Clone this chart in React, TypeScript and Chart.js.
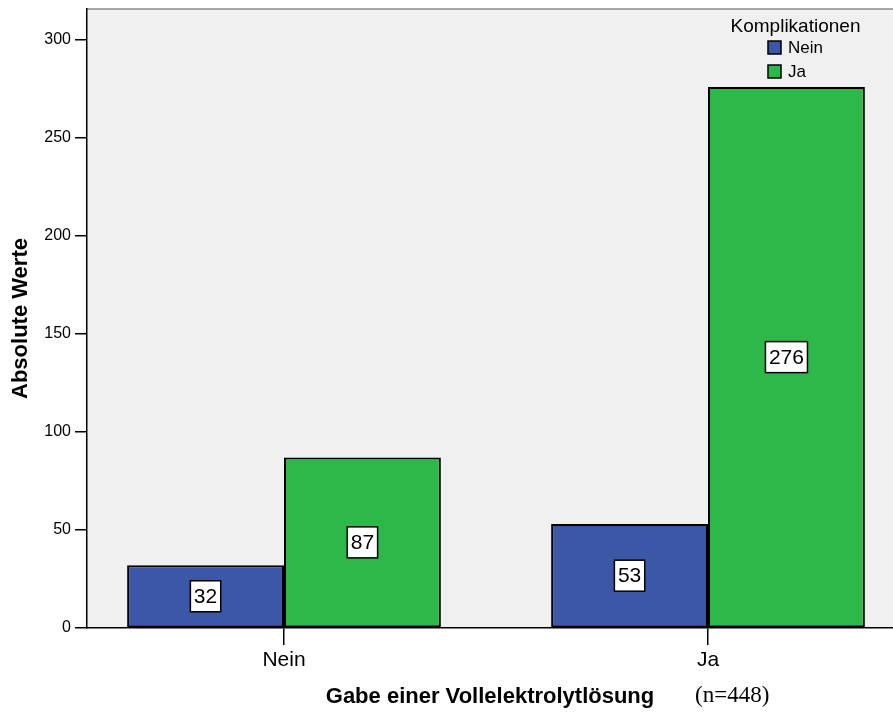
import React, { useEffect, useRef } from 'react';
import { Chart, registerables } from 'chart.js';

Chart.register(...registerables);

// ---- data ----
const categories = ['Nein', 'Ja'];
const seriesLabels = ['Nein', 'Ja'];
const valuesNein = [32, 53];
const valuesJa = [87, 276];
const yTickValues = [0, 50, 100, 150, 200, 250, 300];
const seriesColors = ['#3d57a8', '#2fb84a'];
const legendTitle = 'Komplikationen';
const xTitle = 'Gabe einer Vollelektrolytlösung';
const yTitle = 'Absolute Werte';
const noteText = '(n=448)';

const SANS = '"Liberation Sans", Arial, Helvetica, sans-serif';
const SERIF = '"Liberation Serif", "Times New Roman", serif';

const backgroundPlugin = {
  id: 'plotBackground',
  beforeDraw(chart: any) {
    const { ctx, chartArea } = chart;
    ctx.save();
    ctx.fillStyle = '#f0f0f0';
    ctx.fillRect(chartArea.left, chartArea.top, chartArea.right - chartArea.left, chartArea.bottom - chartArea.top);
    ctx.strokeStyle = '#8a8a8a';
    ctx.lineWidth = 1.5;
    ctx.beginPath();
    ctx.moveTo(chartArea.left, chartArea.top);
    ctx.lineTo(chartArea.right, chartArea.top);
    ctx.stroke();
    ctx.restore();
  },
};

const valueLabelPlugin = {
  id: 'valueLabels',
  afterDatasetsDraw(chart: any) {
    const { ctx } = chart;
    ctx.save();
    ctx.font = `21px ${SANS}`;
    ctx.textAlign = 'center';
    ctx.textBaseline = 'middle';
    chart.data.datasets.forEach((ds: any, di: number) => {
      const meta = chart.getDatasetMeta(di);
      meta.data.forEach((el: any, i: number) => {
        const raw = ds.data[i];
        const v = typeof raw === 'object' ? raw.y : raw;
        const text = String(v);
        const cx = el.x;
        const cy = (el.y + el.base) / 2;
        const w = ctx.measureText(text).width + 7;
        const h = 31;
        ctx.fillStyle = '#ffffff';
        ctx.fillRect(cx - w / 2, cy - h / 2, w, h);
        ctx.strokeStyle = '#000';
        ctx.lineWidth = 1.5;
        ctx.strokeRect(cx - w / 2, cy - h / 2, w, h);
        ctx.fillStyle = '#000';
        ctx.fillText(text, cx, cy + 1);
      });
    });
    ctx.restore();
  },
};

const legendPlugin = {
  id: 'customLegend',
  afterDraw(chart: any) {
    const { ctx } = chart;
    ctx.save();
    ctx.fillStyle = '#000';
    ctx.font = `19px ${SANS}`;
    ctx.textAlign = 'center';
    ctx.textBaseline = 'middle';
    ctx.fillText(legendTitle, 795.5, 27);
    chart.data.datasets.forEach((ds: any, i: number) => {
      const y = 41 + i * 24;
      ctx.fillStyle = ds.backgroundColor;
      ctx.fillRect(768, y, 13, 13);
      ctx.strokeStyle = '#000';
      ctx.lineWidth = 1.5;
      ctx.strokeRect(768, y, 13, 13);
      ctx.fillStyle = '#000';
      ctx.font = `17px ${SANS}`;
      ctx.textAlign = 'left';
      ctx.fillText(ds.label, 788, y + 7);
    });
    ctx.restore();
  },
};

const notePlugin = {
  id: 'noteText',
  afterDraw(chart: any) {
    const { ctx } = chart;
    ctx.save();
    ctx.fillStyle = '#000';
    ctx.font = `23px ${SERIF}`;
    ctx.textAlign = 'left';
    ctx.textBaseline = 'middle';
    ctx.fillText(noteText, 695, 696);
    ctx.restore();
  },
};

export default function App() {
  const canvasRef = useRef<HTMLCanvasElement | null>(null);

  useEffect(() => {
    document.body.style.margin = '0';
    const canvas = canvasRef.current;
    if (!canvas) return;

    const xMin = -0.4646;
    const xMax = 1.4363;

    const chart = new Chart(canvas, {
      type: 'bar',
      data: {
        datasets: [
          {
            label: seriesLabels[0],
            data: valuesNein.map((v, i) => ({ x: i, y: v })),
            backgroundColor: seriesColors[0],
            borderColor: '#000',
            borderWidth: 2,
            borderSkipped: false,
          },
          {
            label: seriesLabels[1],
            data: valuesJa.map((v, i) => ({ x: i, y: v })),
            backgroundColor: seriesColors[1],
            borderColor: '#000',
            borderWidth: 2,
            borderSkipped: false,
          },
        ],
      } as any,
      options: {
        responsive: false,
        animation: false,
        devicePixelRatio: 1,
        layout: { padding: { top: 9, left: 0, right: 0, bottom: 0 } },
        datasets: { bar: { categoryPercentage: 0.74, barPercentage: 1 } },
        plugins: {
          legend: { display: false },
          tooltip: { enabled: false },
        },
        scales: {
          x: {
            type: 'linear',
            min: xMin,
            max: xMax,
            offset: false,
            afterBuildTicks: (scale: any) => {
              scale.ticks = categories.map((_, i) => ({ value: i }));
            },
            afterFit: (scale: any) => {
              scale.height = 85;
              scale.paddingLeft = 0;
              scale.paddingRight = 0;
            },
            ticks: {
              callback: (v: any) => categories[v] ?? '',
              color: '#000',
              font: { family: SANS, size: 21 },
              padding: 3,
              maxRotation: 0,
              autoSkip: false,
            },
            grid: {
              offset: false,
              drawOnChartArea: false,
              drawTicks: true,
              tickLength: 17,
              color: '#000',
              lineWidth: 1.5,
            },
            border: { display: true, color: '#000', width: 1.5 },
            title: {
              display: true,
              text: xTitle,
              color: '#000',
              font: { family: SANS, size: 22, weight: 'bold' },
              padding: { top: 0, bottom: 3 },
            },
          },
          y: {
            type: 'linear',
            min: 0,
            max: 315.8,
            afterBuildTicks: (scale: any) => {
              scale.ticks = yTickValues.map((v) => ({ value: v }));
            },
            afterFit: (scale: any) => {
              scale.width = 87;
              scale.paddingTop = 0;
              scale.paddingBottom = 0;
            },
            ticks: {
              color: '#000',
              font: { family: SANS, size: 16 },
              padding: 4,
            },
            grid: {
              drawOnChartArea: false,
              drawTicks: true,
              tickLength: 12,
              color: '#000',
              lineWidth: 1.5,
            },
            border: { display: true, color: '#000', width: 1.5 },
            title: {
              display: true,
              text: yTitle,
              color: '#000',
              font: { family: SANS, size: 22, weight: 'bold' },
              padding: { top: 8, bottom: 0 },
            },
          },
        },
      } as any,
      plugins: [backgroundPlugin, valueLabelPlugin, legendPlugin, notePlugin],
    });

    return () => {
      chart.destroy();
    };
  }, []);

  return (
    <div style={{ width: 893, height: 713 }}>
      <canvas ref={canvasRef} width={893} height={713} style={{ display: 'block' }} />
    </div>
  );
}
